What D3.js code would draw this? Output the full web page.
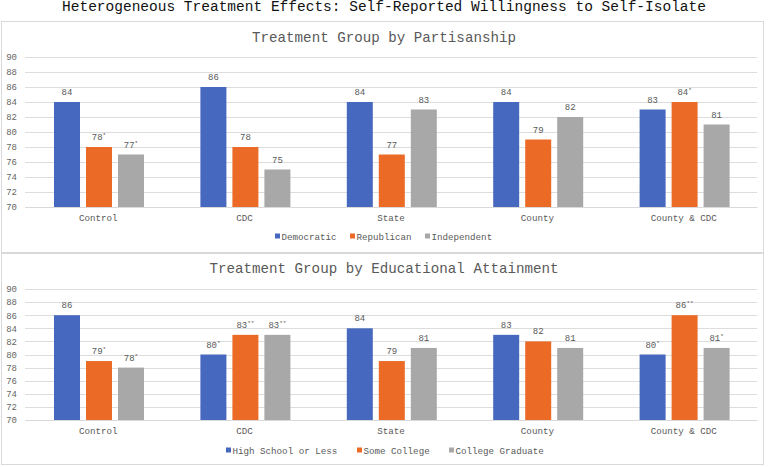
<!DOCTYPE html>
<html><head><meta charset="utf-8">
<script src="https://cdn.jsdelivr.net/npm/d3@7"></script>
<style>
body{margin:0;background:#fff;}
svg{display:block;font-family:"Liberation Mono","Courier New",monospace;}
</style></head>
<body><svg id="c" width="768" height="467"></svg>
<script>
const mainTitle = "Heterogeneous Treatment Effects: Self-Reported Willingness to Self-Isolate";
const categories = ["Control","CDC","State","County","County & CDC"];
const yTicks = [70,72,74,76,78,80,82,84,86,88,90];

const partyTitle = "Treatment Group by Partisanship";
const partySeries = ["Democratic","Republican","Independent"];
const democratic = [84,86,84,84,83];
const republican = [78,78,77,79,84];
const independent = [77,75,83,82,81];
const democraticSig = ["","","","",""];
const republicanSig = ["*","","","","*"];
const independentSig = ["*","","","",""];

const eduTitle = "Treatment Group by Educational Attainment";
const eduSeries = ["High School or Less","Some College","College Graduate"];
const highSchool = [86,80,84,83,80];
const someCollege = [79,83,79,82,86];
const collegeGrad = [78,83,81,81,81];
const highSchoolSig = ["","*","","","*"];
const someCollegeSig = ["*","**","","","**"];
const collegeGradSig = ["*","**","","","*"];

const colors = ["#4668BE","#EB6B26","#A8A8A8"];
const svg = d3.select("#c");

svg.append("text").attr("x",384).attr("y",11).attr("text-anchor","middle")
  .attr("font-size",14.5).attr("fill","#111").text(mainTitle);

function panel(cfg){
  const g = svg.append("g");
  g.append("rect").attr("x",cfg.box[0]+0.5).attr("y",cfg.box[1]+0.5)
    .attr("width",cfg.box[2]).attr("height",cfg.box[3])
    .attr("fill","#fff").attr("stroke","#D9D9D9");
  g.append("text").attr("x",384).attr("y",cfg.titleY).attr("text-anchor","middle")
    .attr("font-size",14.2).attr("fill","#595959").text(cfg.title);
  const y = d3.scaleLinear().domain([70,90]).range(cfg.yRange);
  const x0 = d3.scaleBand().domain(categories).range([25,757]).paddingInner(0).paddingOuter(0);
  const x1 = d3.scaleBand().domain(cfg.series).range([0,90]).paddingInner(0.1875);
  g.selectAll(".grid").data(yTicks).enter().append("line")
    .attr("x1",25).attr("x2",757).attr("y1",d=>Math.round(y(d))+0.5).attr("y2",d=>Math.round(y(d))+0.5)
    .attr("stroke","#DDDDDD").attr("stroke-width",1);
  const ya = g.append("g").attr("transform","translate(20,0)")
    .call(d3.axisLeft(y).tickValues(yTicks).tickSize(0).tickPadding(3));
  ya.select(".domain").remove();
  ya.selectAll("text").attr("font-family","Liberation Mono, monospace").attr("font-size",9).attr("fill","#666");
  const xa = g.append("g").attr("transform",`translate(0,${cfg.yRange[0]})`)
    .call(d3.axisBottom(x0).tickSize(0).tickPadding(7));
  xa.select(".domain").attr("stroke","#D9D9D9");
  xa.selectAll("text").attr("font-family","Liberation Mono, monospace").attr("font-size",9.2).attr("fill","#595959");
  cfg.values.forEach((vals,si)=>{
    categories.forEach((c,ci)=>{
      const bx = x0(c) + (x0.bandwidth()-90)/2 + 0.8 + x1(cfg.series[si]);
      g.append("rect").attr("x",bx).attr("y",y(vals[ci]))
        .attr("width",x1.bandwidth()).attr("height",y(70)-y(vals[ci]))
        .attr("fill",colors[si]);
      const t = g.append("text").attr("x",bx+x1.bandwidth()/2).attr("y",y(vals[ci])-7)
        .attr("text-anchor","middle").attr("font-size",9).attr("fill","#595959");
      t.append("tspan").text(vals[ci]);
      const s = cfg.sig[si][ci];
      if(s){ t.append("tspan").attr("font-size",6).attr("dy",-3).text(s); }
    });
  });
  const lg = g.append("g");
  cfg.series.forEach((name,i)=>{
    lg.append("rect").attr("x",cfg.legendX[i]).attr("y",cfg.legendY-3.5).attr("width",5).attr("height",5).attr("fill",colors[i]);
    lg.append("text").attr("x",cfg.legendX[i]+6.5).attr("y",cfg.legendY+3)
      .attr("font-size",9.2).attr("fill","#595959").text(name);
  });
}

panel({box:[1,21,762,231], title:partyTitle, titleY:42, yRange:[207,57],
  series:partySeries, values:[democratic,republican,independent],
  sig:[democraticSig,republicanSig,independentSig],
  legendX:[275,350,425], legendY:237});
panel({box:[1,253,762,211], title:eduTitle, titleY:273, yRange:[420,289],
  series:eduSeries, values:[highSchool,someCollege,collegeGrad],
  sig:[highSchoolSig,someCollegeSig,collegeGradSig],
  legendX:[226,357,449], legendY:451});
</script></body></html>
